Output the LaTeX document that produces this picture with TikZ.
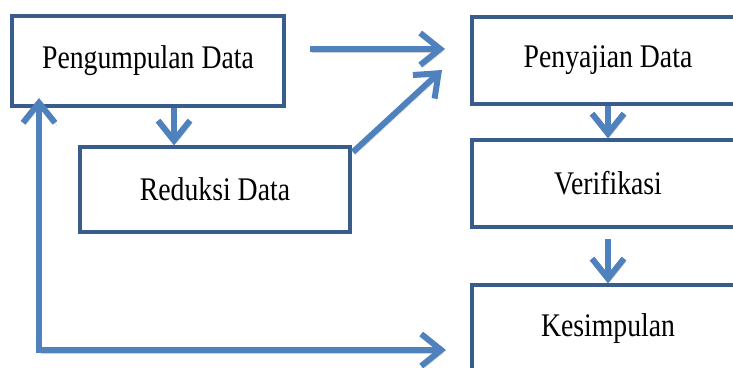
\documentclass[tikz,border=0pt]{standalone}
\usepackage{fontspec}
\newfontfamily\diafont[FakeStretch=0.84]{Liberation Serif}
\usetikzlibrary{arrows.meta}
\definecolor{arrblue}{HTML}{4F81BD}
\definecolor{boxblue}{HTML}{385D8A}
\tikzset{
  box/.style={draw=boxblue, line width=3.2pt, fill=white, rectangle, inner sep=0pt,
    font=\diafont\fontsize{33}{36}\selectfont},
  arr/.style={draw=arrblue, line width=6pt,
    -{Straight Barb[length=20pt,width=32pt,line width=6pt]},
    preaction={draw=black!18, transform canvas={shift={(2pt,-3pt)}}}},
}
\begin{document}
\begin{tikzpicture}[x=1pt,y=-1pt]
\clip (0,0) rectangle (733,367);
\fill[white] (0,0) rectangle (733,367);
% boxes
\node[box, minimum width=272pt, minimum height=90pt] (peng) at (148,61) {Pengumpulan Data};
\node[box, minimum width=270pt, minimum height=85pt] (red) at (215,189.5) {Reduksi Data};
\node[box, minimum width=272pt, minimum height=87pt] (peny) at (608,60.5) {Penyajian Data};
\node[box, minimum width=272pt, minimum height=87pt] (ver) at (608,183.5) {Verifikasi};
\node[box, minimum width=272pt, minimum height=87pt] (kes) at (608,328.5) {Kesimpulan};
% free-end coordinates
\coordinate (h1) at (310,49);
\coordinate (h2) at (445,49);
\coordinate (d1) at (353,152);
\coordinate (d2) at (442,70);
\coordinate (fbtop) at (39,98);
\coordinate (fbcorner) at (39,350);
\coordinate (fbend) at (446,350);
% connectors
\draw[arr] ([xshift=26pt]peng.south) -- ([xshift=26pt]peng.south |- red.north);
\draw[arr] (h1) -- (h2);
\draw[arr] (d1) -- (d2);
\draw[arr] (peny.south) -- (ver.north);
\draw[arr] ([yshift=-10pt]ver.south) -- (kes.north);
\draw[arr, {Straight Barb[length=20pt,width=32pt,line width=6pt]}-{Straight Barb[length=20pt,width=32pt,line width=6pt]}] (fbtop) -- (fbcorner) -- (fbend);
\end{tikzpicture}
\end{document}
